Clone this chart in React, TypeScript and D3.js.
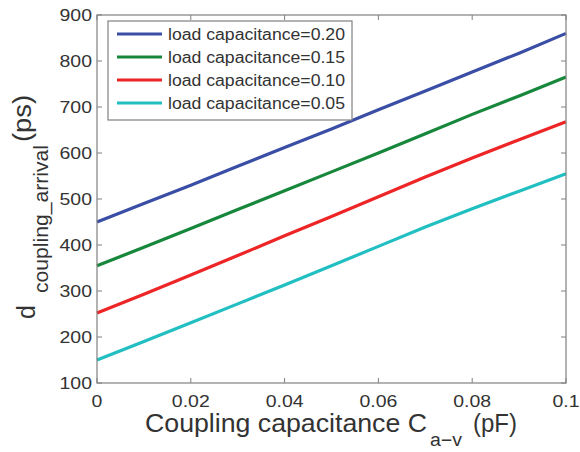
import React from 'react'
import * as d3 from 'd3'

// coupling capacitance (pF)
const xs = [0, 0.01, 0.02, 0.03, 0.04, 0.05, 0.06, 0.07, 0.08, 0.09, 0.1]
const load020 = [450, 490, 530, 571, 612, 652, 694, 735, 776, 817, 860]
const load015 = [355, 395, 436, 477, 518, 559, 600, 642, 684, 724, 765]
const load010 = [252, 293, 335, 377, 420, 462, 505, 548, 589, 629, 668]
const load005 = [150, 190, 231, 272, 313, 355, 397, 439, 479, 517, 555]
const seriesNames = ['load capacitance=0.20', 'load capacitance=0.15', 'load capacitance=0.10', 'load capacitance=0.05']
const xTicks = [0, 0.02, 0.04, 0.06, 0.08, 0.1]
const xTickLabels = ['0', '0.02', '0.04', '0.06', '0.08', '0.1']
const yTicks = [100, 200, 300, 400, 500, 600, 700, 800, 900]

const colors = ['#3a4ea6', '#17873c', '#ee2526', '#22bfc2']

export default function App() {
  const W = 580, H = 452
  const left = 97, right = 566, top = 15, bottom = 383
  const x = d3.scaleLinear().domain([0, 0.1]).range([left, right])
  const y = d3.scaleLinear().domain([100, 900]).range([bottom, top])
  const allSeries = [load020, load015, load010, load005]
  const line = d3.line<number>().x((_, i) => x(xs[i])).y(d => y(d))
  const axisColor = '#808080'
  const textColor = '#333'
  const font = 'Liberation Sans, Arial, sans-serif'
  const sx = 1.18 // the picture's text is a bit wide

  return (
    <svg width={W} height={H} style={{ position: 'absolute', left: 0, top: 0, background: '#fff' }}
      fontFamily={font}>
      {allSeries.map((s, i) => (
        <path key={i} d={line(s) || ''} fill="none" stroke={colors[i]} strokeWidth={3.2} />
      ))}
      <rect x={left} y={top} width={right - left} height={bottom - top} fill="none" stroke={axisColor} strokeWidth={1.2} />
      {xTicks.map((t, i) => (
        <g key={'x' + i}>
          <line x1={x(t)} x2={x(t)} y1={bottom} y2={bottom - 5} stroke={axisColor} />
          <line x1={x(t)} x2={x(t)} y1={top} y2={top + 5} stroke={axisColor} />
          <text transform={`translate(${x(t)},407) scale(${sx},1)`} textAnchor="middle" fontSize={16.5} fill={textColor}>{xTickLabels[i]}</text>
        </g>
      ))}
      {yTicks.map((t, i) => (
        <g key={'y' + i}>
          <line x1={left} x2={left + 5} y1={y(t)} y2={y(t)} stroke={axisColor} />
          <line x1={right} x2={right - 5} y1={y(t)} y2={y(t)} stroke={axisColor} />
          <text transform={`translate(92,${y(t) + 6}) scale(${sx},1)`} textAnchor="end" fontSize={16.5} fill={textColor}>{t}</text>
        </g>
      ))}
      {/* x axis label */}
      <text x={145} y={432} fontSize={25} fill={textColor} textLength={282} lengthAdjust="spacingAndGlyphs">Coupling capacitance C</text>
      <text x={430} y={446} fontSize={18} fill={textColor} textLength={32} lengthAdjust="spacingAndGlyphs">a−v</text>
      <text x={473} y={432} fontSize={25} fill={textColor} textLength={44} lengthAdjust="spacingAndGlyphs">(pF)</text>
      {/* y axis label */}
      <text transform="translate(35,319) rotate(-90)" fontSize={25} fill={textColor}>d</text>
      <text transform="translate(48,293) rotate(-90)" fontSize={20} fill={textColor} textLength={148} lengthAdjust="spacingAndGlyphs">coupling_arrival</text>
      <text transform="translate(31,142) rotate(-90)" fontSize={25} fill={textColor} textLength={47} lengthAdjust="spacingAndGlyphs">(ps)</text>
      {/* legend */}
      <rect x={108} y={21} width={244} height={99} fill="#fff" stroke={axisColor} strokeWidth={1.2} />
      {seriesNames.map((n, i) => (
        <g key={'l' + i}>
          <line x1={117} x2={162} y1={34 + i * 23} y2={34 + i * 23} stroke={colors[i]} strokeWidth={3.2} />
          <text x={168} y={34 + i * 23 + 6} fontSize={16} fill={textColor} textLength={177} lengthAdjust="spacingAndGlyphs">{n}</text>
        </g>
      ))}
    </svg>
  )
}
